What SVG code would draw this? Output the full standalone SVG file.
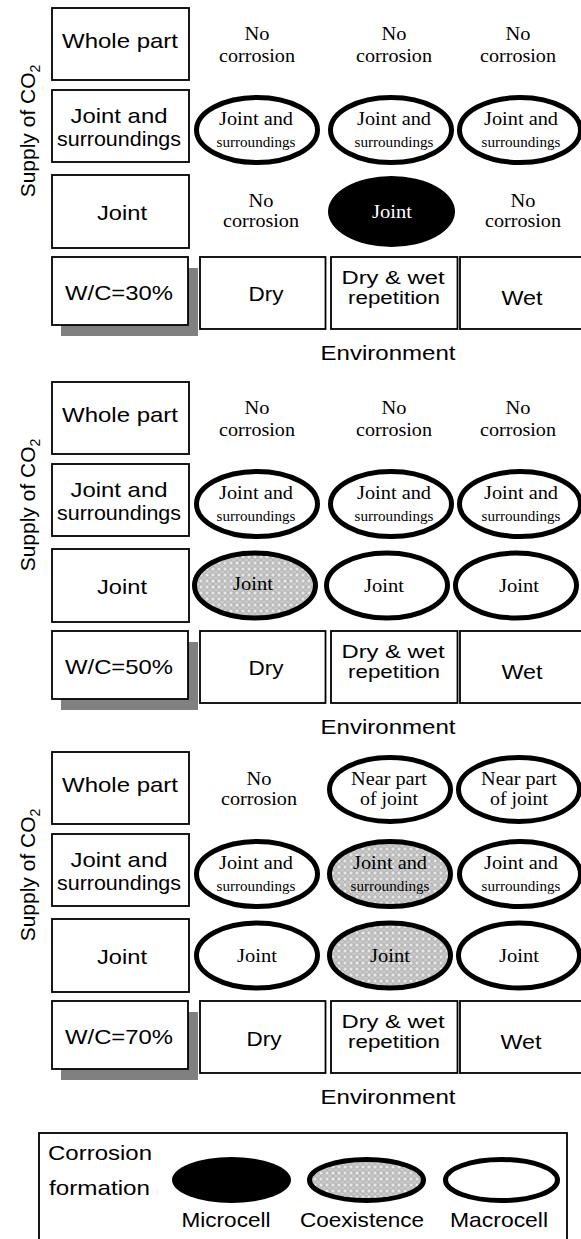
<svg xmlns="http://www.w3.org/2000/svg" width="581" height="1239" viewBox="0 0 581 1239">
<style>
.box{fill:#fff;stroke:#000;stroke-width:1.8}
.shadow{fill:#808080;stroke:none}
.ell{fill:#fff;stroke:#000;stroke-width:5}
.co{fill:url(#hatch);stroke:#000;stroke-width:5}
.mi{fill:#000;stroke:none}
.s{font-family:"Liberation Sans",Arial,sans-serif;font-size:21px;text-anchor:middle;fill:#000}
.s2{font-family:"Liberation Sans",Arial,sans-serif;font-size:18px;text-anchor:middle;fill:#000}
.r{font-family:"Liberation Serif","Times New Roman",serif;font-size:18.5px;text-anchor:middle;fill:#000}
.rs{font-family:"Liberation Serif","Times New Roman",serif;font-size:14.5px;text-anchor:middle;fill:#000}
</style>
<defs>
<pattern id="hatch" width="6" height="6" patternUnits="userSpaceOnUse">
<rect width="6" height="6" fill="#b9b9b9"/>
<path d="M0 1.5L1.5 0M4.5 0L6 1.5M0 4.5L1.5 6M4.5 6L6 4.5M3 1.5L4.5 3L3 4.5L1.5 3Z" fill="#ececec" stroke="#ececec" stroke-width="0.6"/>
</pattern>
</defs>
<rect width="581" height="1239" fill="#fff"/>

<!-- Panel 1: W/C=30% -->
<g id="panel30">
<g id="p1-supply"><text class="s" transform="translate(35,131) rotate(-90)">Supply of CO<tspan font-size="14" dy="5">2</tspan></text></g>
<g id="p1-whole"><rect class="box" x="52" y="8" width="137" height="72"/><text class="s" x="120" y="48" textLength="116" lengthAdjust="spacingAndGlyphs">Whole part</text></g>
<g id="p1-js"><rect class="box" x="52" y="90" width="137" height="72"/><text class="s" x="119" y="122.7" textLength="97" lengthAdjust="spacingAndGlyphs">Joint and</text><text class="s" x="119" y="145.7" textLength="124" lengthAdjust="spacingAndGlyphs">surroundings</text></g>
<g id="p1-joint"><rect class="box" x="52" y="175" width="137" height="73"/><text class="s" x="122" y="220" textLength="50" lengthAdjust="spacingAndGlyphs">Joint</text></g>
<g id="p1-wc"><rect class="shadow" x="61" y="268" width="137" height="68"/><rect class="box" x="52" y="257" width="136" height="68"/><text class="s" x="119" y="300" textLength="108" lengthAdjust="spacingAndGlyphs">W/C=30%</text></g>
<g id="p1-dry"><rect class="box" x="200" y="257" width="125.5" height="72"/><text class="s" x="266" y="301" textLength="35" lengthAdjust="spacingAndGlyphs">Dry</text></g>
<g id="p1-dw"><rect class="box" x="331" y="257" width="126.5" height="72"/><text class="s2" x="393" y="283.5" textLength="103" lengthAdjust="spacingAndGlyphs">Dry &amp; wet</text><text class="s2" x="394" y="304" textLength="92" lengthAdjust="spacingAndGlyphs">repetition</text></g>
<g id="p1-wet"><rect class="box" x="460" y="257" width="125" height="72"/><text class="s" x="522" y="305" textLength="41" lengthAdjust="spacingAndGlyphs">Wet</text></g>
<g id="p1-env"><text class="s" x="388" y="360" textLength="135" lengthAdjust="spacingAndGlyphs">Environment</text></g>
<g id="p1-r1c1"><text class="r" x="257" y="40" textLength="25" lengthAdjust="spacingAndGlyphs">No</text><text class="r" x="257" y="61.7" textLength="76" lengthAdjust="spacingAndGlyphs">corrosion</text></g>
<g id="p1-r1c2"><text class="r" x="394" y="40" textLength="25" lengthAdjust="spacingAndGlyphs">No</text><text class="r" x="394" y="61.7" textLength="76" lengthAdjust="spacingAndGlyphs">corrosion</text></g>
<g id="p1-r1c3"><text class="r" x="518" y="40" textLength="25" lengthAdjust="spacingAndGlyphs">No</text><text class="r" x="518" y="61.7" textLength="76" lengthAdjust="spacingAndGlyphs">corrosion</text></g>
<g id="p1-r2c1"><ellipse class="ell" cx="257" cy="130" rx="60.5" ry="32.5"/><text class="r" x="256" y="125" textLength="74" lengthAdjust="spacingAndGlyphs">Joint and</text><text class="rs" x="256" y="146.7" textLength="79" lengthAdjust="spacingAndGlyphs">surroundings</text></g>
<g id="p1-r2c2"><ellipse class="ell" cx="391" cy="130" rx="60.5" ry="32.5"/><text class="r" x="394" y="125" textLength="74" lengthAdjust="spacingAndGlyphs">Joint and</text><text class="rs" x="394" y="146.7" textLength="79" lengthAdjust="spacingAndGlyphs">surroundings</text></g>
<g id="p1-r2c3"><ellipse class="ell" cx="520" cy="130" rx="60.5" ry="32.5"/><text class="r" x="521" y="125" textLength="74" lengthAdjust="spacingAndGlyphs">Joint and</text><text class="rs" x="521" y="146.7" textLength="79" lengthAdjust="spacingAndGlyphs">surroundings</text></g>
<g id="p1-r3c1"><text class="r" x="261" y="206.7" textLength="25" lengthAdjust="spacingAndGlyphs">No</text><text class="r" x="261" y="226.7" textLength="76" lengthAdjust="spacingAndGlyphs">corrosion</text></g>
<g id="p1-r3c2"><ellipse class="mi" cx="391.5" cy="211.5" rx="63.5" ry="35.5"/><text class="r" x="392" y="218" textLength="40" lengthAdjust="spacingAndGlyphs" style="fill:#fff">Joint</text></g>
<g id="p1-r3c3"><text class="r" x="523" y="206.7" textLength="25" lengthAdjust="spacingAndGlyphs">No</text><text class="r" x="523" y="226.7" textLength="76" lengthAdjust="spacingAndGlyphs">corrosion</text></g>
</g>

<!-- Panel 2: W/C=50% -->
<g id="panel50" transform="translate(0,374)">
<g id="p2-supply"><text class="s" transform="translate(35,131) rotate(-90)">Supply of CO<tspan font-size="14" dy="5">2</tspan></text></g>
<g id="p2-whole"><rect class="box" x="52" y="8" width="137" height="72"/><text class="s" x="120" y="48" textLength="116" lengthAdjust="spacingAndGlyphs">Whole part</text></g>
<g id="p2-js"><rect class="box" x="52" y="90" width="137" height="72"/><text class="s" x="119" y="122.7" textLength="97" lengthAdjust="spacingAndGlyphs">Joint and</text><text class="s" x="119" y="145.7" textLength="124" lengthAdjust="spacingAndGlyphs">surroundings</text></g>
<g id="p2-joint"><rect class="box" x="52" y="175" width="137" height="73"/><text class="s" x="122" y="220" textLength="50" lengthAdjust="spacingAndGlyphs">Joint</text></g>
<g id="p2-wc"><rect class="shadow" x="61" y="268" width="137" height="68"/><rect class="box" x="52" y="257" width="136" height="68"/><text class="s" x="119" y="300" textLength="108" lengthAdjust="spacingAndGlyphs">W/C=50%</text></g>
<g id="p2-dry"><rect class="box" x="200" y="257" width="125.5" height="72"/><text class="s" x="266" y="301" textLength="35" lengthAdjust="spacingAndGlyphs">Dry</text></g>
<g id="p2-dw"><rect class="box" x="331" y="257" width="126.5" height="72"/><text class="s2" x="393" y="283.5" textLength="103" lengthAdjust="spacingAndGlyphs">Dry &amp; wet</text><text class="s2" x="394" y="304" textLength="92" lengthAdjust="spacingAndGlyphs">repetition</text></g>
<g id="p2-wet"><rect class="box" x="460" y="257" width="125" height="72"/><text class="s" x="522" y="305" textLength="41" lengthAdjust="spacingAndGlyphs">Wet</text></g>
<g id="p2-env"><text class="s" x="388" y="360" textLength="135" lengthAdjust="spacingAndGlyphs">Environment</text></g>
<g id="p2-r1c1"><text class="r" x="257" y="40" textLength="25" lengthAdjust="spacingAndGlyphs">No</text><text class="r" x="257" y="61.7" textLength="76" lengthAdjust="spacingAndGlyphs">corrosion</text></g>
<g id="p2-r1c2"><text class="r" x="394" y="40" textLength="25" lengthAdjust="spacingAndGlyphs">No</text><text class="r" x="394" y="61.7" textLength="76" lengthAdjust="spacingAndGlyphs">corrosion</text></g>
<g id="p2-r1c3"><text class="r" x="518" y="40" textLength="25" lengthAdjust="spacingAndGlyphs">No</text><text class="r" x="518" y="61.7" textLength="76" lengthAdjust="spacingAndGlyphs">corrosion</text></g>
<g id="p2-r2c1"><ellipse class="ell" cx="257" cy="130" rx="60.5" ry="32.5"/><text class="r" x="256" y="125" textLength="74" lengthAdjust="spacingAndGlyphs">Joint and</text><text class="rs" x="256" y="146.7" textLength="79" lengthAdjust="spacingAndGlyphs">surroundings</text></g>
<g id="p2-r2c2"><ellipse class="ell" cx="391" cy="130" rx="60.5" ry="32.5"/><text class="r" x="394" y="125" textLength="74" lengthAdjust="spacingAndGlyphs">Joint and</text><text class="rs" x="394" y="146.7" textLength="79" lengthAdjust="spacingAndGlyphs">surroundings</text></g>
<g id="p2-r2c3"><ellipse class="ell" cx="520" cy="130" rx="60.5" ry="32.5"/><text class="r" x="521" y="125" textLength="74" lengthAdjust="spacingAndGlyphs">Joint and</text><text class="rs" x="521" y="146.7" textLength="79" lengthAdjust="spacingAndGlyphs">surroundings</text></g>
<g id="p2-r3c1"><ellipse class="co" cx="255" cy="211.5" rx="60.5" ry="32.5"/><text class="r" x="253" y="216" textLength="40" lengthAdjust="spacingAndGlyphs">Joint</text></g>
<g id="p2-r3c2"><ellipse class="ell" cx="387" cy="211.5" rx="60.5" ry="32.5"/><text class="r" x="384" y="218" textLength="40" lengthAdjust="spacingAndGlyphs">Joint</text></g>
<g id="p2-r3c3"><ellipse class="ell" cx="516" cy="211.5" rx="60.5" ry="32.5"/><text class="r" x="519" y="218" textLength="40" lengthAdjust="spacingAndGlyphs">Joint</text></g>
</g>

<!-- Panel 3: W/C=70% -->
<g id="panel70" transform="translate(0,744)">
<g id="p3-supply"><text class="s" transform="translate(35,131) rotate(-90)">Supply of CO<tspan font-size="14" dy="5">2</tspan></text></g>
<g id="p3-whole"><rect class="box" x="52" y="8" width="137" height="72"/><text class="s" x="120" y="48" textLength="116" lengthAdjust="spacingAndGlyphs">Whole part</text></g>
<g id="p3-js"><rect class="box" x="52" y="90" width="137" height="72"/><text class="s" x="119" y="122.7" textLength="97" lengthAdjust="spacingAndGlyphs">Joint and</text><text class="s" x="119" y="145.7" textLength="124" lengthAdjust="spacingAndGlyphs">surroundings</text></g>
<g id="p3-joint"><rect class="box" x="52" y="175" width="137" height="73"/><text class="s" x="122" y="220" textLength="50" lengthAdjust="spacingAndGlyphs">Joint</text></g>
<g id="p3-wc"><rect class="shadow" x="61" y="268" width="137" height="68"/><rect class="box" x="52" y="257" width="136" height="68"/><text class="s" x="119" y="300" textLength="108" lengthAdjust="spacingAndGlyphs">W/C=70%</text></g>
<g id="p3-dry"><rect class="box" x="200" y="257" width="125.5" height="72"/><text class="s" x="264" y="302" textLength="35" lengthAdjust="spacingAndGlyphs">Dry</text></g>
<g id="p3-dw"><rect class="box" x="331" y="257" width="126.5" height="72"/><text class="s2" x="393" y="283.5" textLength="103" lengthAdjust="spacingAndGlyphs">Dry &amp; wet</text><text class="s2" x="394" y="304" textLength="92" lengthAdjust="spacingAndGlyphs">repetition</text></g>
<g id="p3-wet"><rect class="box" x="460" y="257" width="125" height="72"/><text class="s" x="521" y="305" textLength="41" lengthAdjust="spacingAndGlyphs">Wet</text></g>
<g id="p3-env"><text class="s" x="388" y="360" textLength="135" lengthAdjust="spacingAndGlyphs">Environment</text></g>
<g id="p3-r1c1"><text class="r" x="259" y="41" textLength="25" lengthAdjust="spacingAndGlyphs">No</text><text class="r" x="259" y="61" textLength="76" lengthAdjust="spacingAndGlyphs">corrosion</text></g>
<g id="p3-r1c2"><ellipse class="ell" cx="390" cy="45.5" rx="60.5" ry="32"/><text class="r" x="389" y="41" textLength="76" lengthAdjust="spacingAndGlyphs">Near part</text><text class="r" x="389" y="61" textLength="58" lengthAdjust="spacingAndGlyphs">of joint</text></g>
<g id="p3-r1c3"><ellipse class="ell" cx="519" cy="45.5" rx="60.5" ry="32"/><text class="r" x="519" y="41" textLength="76" lengthAdjust="spacingAndGlyphs">Near part</text><text class="r" x="519" y="61" textLength="58" lengthAdjust="spacingAndGlyphs">of joint</text></g>
<g id="p3-r2c1"><ellipse class="ell" cx="257" cy="130" rx="60.5" ry="32.5"/><text class="r" x="256" y="125" textLength="74" lengthAdjust="spacingAndGlyphs">Joint and</text><text class="rs" x="256" y="146.7" textLength="79" lengthAdjust="spacingAndGlyphs">surroundings</text></g>
<g id="p3-r2c2"><ellipse class="co" cx="390" cy="130" rx="60.5" ry="32.5"/><text class="r" x="390" y="125" textLength="74" lengthAdjust="spacingAndGlyphs">Joint and</text><text class="rs" x="390" y="146.7" textLength="79" lengthAdjust="spacingAndGlyphs">surroundings</text></g>
<g id="p3-r2c3"><ellipse class="ell" cx="520" cy="130" rx="60.5" ry="32.5"/><text class="r" x="521" y="125" textLength="74" lengthAdjust="spacingAndGlyphs">Joint and</text><text class="rs" x="521" y="146.7" textLength="79" lengthAdjust="spacingAndGlyphs">surroundings</text></g>
<g id="p3-r3c1"><ellipse class="ell" cx="257" cy="211.5" rx="60.5" ry="32.5"/><text class="r" x="257" y="218" textLength="40" lengthAdjust="spacingAndGlyphs">Joint</text></g>
<g id="p3-r3c2"><ellipse class="co" cx="390" cy="211.5" rx="60.5" ry="32.5"/><text class="r" x="390" y="218" textLength="40" lengthAdjust="spacingAndGlyphs">Joint</text></g>
<g id="p3-r3c3"><ellipse class="ell" cx="519" cy="211.5" rx="60.5" ry="32.5"/><text class="r" x="519" y="218" textLength="40" lengthAdjust="spacingAndGlyphs">Joint</text></g>
</g>

<!-- Legend -->
<g id="legend">
<rect class="box" x="39" y="1133" width="528" height="120"/>
<text class="s" x="48" y="1160" style="text-anchor:start" textLength="104" lengthAdjust="spacingAndGlyphs">Corrosion</text>
<text class="s" x="49" y="1195" style="text-anchor:start" textLength="101" lengthAdjust="spacingAndGlyphs">formation</text>
<g id="lg-micro"><ellipse class="mi" cx="231.5" cy="1180" rx="59.5" ry="23"/><text class="s" x="226" y="1227" textLength="89" lengthAdjust="spacingAndGlyphs">Microcell</text></g>
<g id="lg-coex"><ellipse class="co" cx="366.5" cy="1180" rx="57" ry="20.5"/><text class="s" x="362" y="1227" textLength="124" lengthAdjust="spacingAndGlyphs">Coexistence</text></g>
<g id="lg-macro"><ellipse class="ell" cx="501.5" cy="1180" rx="56" ry="20.5"/><text class="s" x="499" y="1227" textLength="98" lengthAdjust="spacingAndGlyphs">Macrocell</text></g>
</g>
<g id="connectors"/>
</svg>
